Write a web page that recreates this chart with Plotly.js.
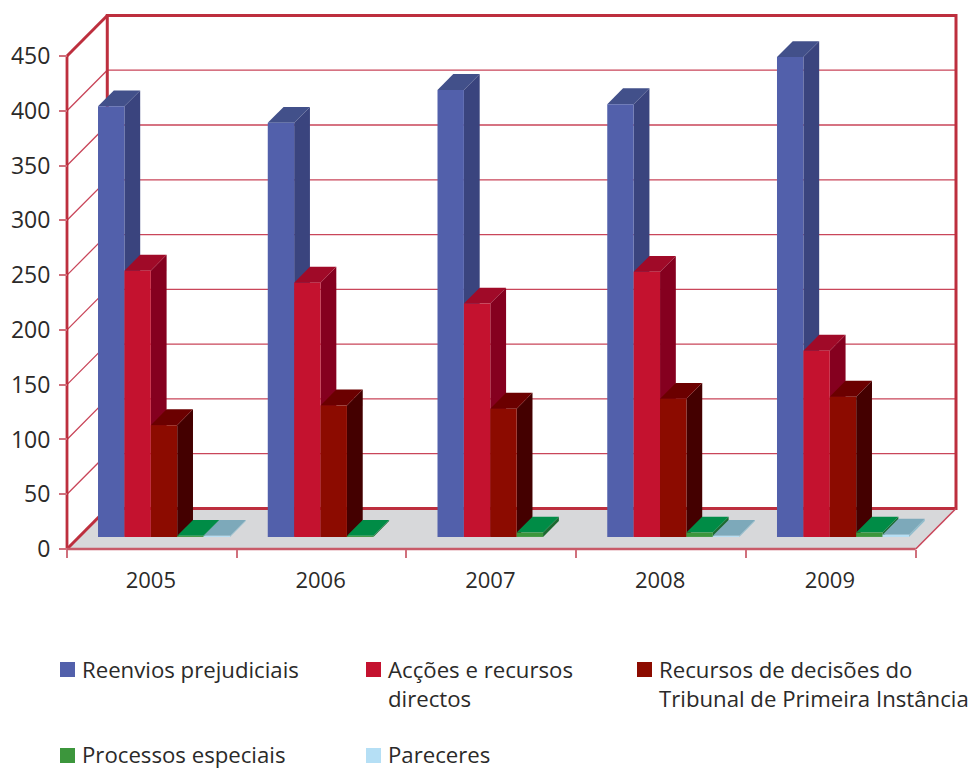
<!DOCTYPE html>
<html lang="pt">
<head>
<meta charset="utf-8">
<title>Processos por ano</title>
<script src="https://cdn.plot.ly/plotly-3.0.1.min.js"></script>
<style>html,body{margin:0;padding:0;background:#fff;overflow:hidden}</style>
</head>
<body>
<div id="chart" style="width:972px;height:769px"></div>
<script>
// Category labels and tick values
const years = ['2005', '2006', '2007', '2008', '2009'];
const valueTicks = [50, 100, 150, 200, 250, 300, 350, 400];

// Series values per year (0 = no bar)
const reenvios = [393, 378, 408, 395, 438];
const accoes = [243, 232, 213, 242, 170];
const recursos = [102, 120, 117, 126, 128];
const especiais = [1, 1, 4, 4, 4];
const pareceres = [1, 0, 0, 1, 2];

// Series names as set in the key
const names = [
  'Reenvios prejudiciais',
  'Acções e recursos<br>directos',
  'Recursos de decisões do<br>Tribunal de Primeira Instância',
  'Processos especiais',
  'Pareceres'
];

// Front / side / top shading for each series
const faces = [
  ['#5260ab', '#3a447e', '#42508a'],
  ['#c4122f', '#85001f', '#a00a28'],
  ['#8c0b00', '#440000', '#6b0000'],
  ['#3c963c', '#1c6a30', '#008c46'],
  ['#b5dff5', '#8fbccd', '#7da9ba']
];
const series = [reenvios, accoes, recursos, especiais, pareceres];

// Oblique projection: how far one unit of full depth shifts in axis units
const DEPTH_X = 0.2373;
const DEPTH_Y = 37;
const XMAX = years.length + DEPTH_X;
const YTOP = 450 + DEPTH_Y;
const YSPAN = 487.4;

// Bar placement inside a category, in category widths and depth fractions
const GAP = 0.112, BAR_W = 0.1555, D0 = 0.298, D1 = 0.69;

const FRAME = '#bd2f3e', GRID = '#c9465a', FLOOR = '#d7d8da', INK = '#2b2a29', FONT = '"Open Sans", sans-serif';

function poly(points, color) {
  return {
    type: 'scatter', mode: 'lines', x: points.map(p => p[0]), y: points.map(p => p[1]),
    fill: 'toself', fillcolor: color, line: {width: 0, color: color},
    hoverinfo: 'skip', showlegend: false
  };
}
function stroke(points, color, width) {
  return {
    type: 'scatter', mode: 'lines', x: points.map(p => p[0]), y: points.map(p => p[1]),
    line: {color: color, width: width}, hoverinfo: 'skip', showlegend: false
  };
}

const traces = [];

// Floor, back-wall grid and frame
const n = years.length;
traces.push(poly([[0, 0], [n, 0], [n + DEPTH_X, DEPTH_Y], [DEPTH_X, DEPTH_Y], [0, 0]], FLOOR));
valueTicks.forEach(v => {
  traces.push(stroke([[0, v], [DEPTH_X, v + DEPTH_Y], [XMAX, v + DEPTH_Y]], GRID, 1.3));
});
traces.push(stroke([[DEPTH_X, DEPTH_Y], [XMAX, DEPTH_Y], [XMAX, YTOP], [DEPTH_X, YTOP], [DEPTH_X, DEPTH_Y]], FRAME, 3));
traces.push(stroke([[0, 450], [DEPTH_X, YTOP]], FRAME, 3));
traces.push(stroke([[0, 0], [DEPTH_X, DEPTH_Y]], FRAME, 3));
traces.push(stroke([[0, 0], [0, 450]], FRAME, 2.8));
traces.push(stroke([[n, 0], [XMAX, DEPTH_Y]], '#c9465a', 1.5));
traces.push(stroke([[0, 0], [n, 0]], '#c85a68', 2.4));

// Extruded bars, painted left to right so each front hides its neighbour's side
series.forEach((values, s) => {
  values.forEach((v, c) => {
    if (!v) return;
    const x0 = c + GAP + s * BAR_W, x1 = x0 + BAR_W;
    const fx0 = x0 + D0 * DEPTH_X, fx1 = x1 + D0 * DEPTH_X;
    const bx0 = x0 + D1 * DEPTH_X, bx1 = x1 + D1 * DEPTH_X;
    const fy0 = D0 * DEPTH_Y, fy1 = v + D0 * DEPTH_Y;
    const by0 = D1 * DEPTH_Y, by1 = v + D1 * DEPTH_Y;
    traces.push(poly([[fx1, fy0], [bx1, by0], [bx1, by1], [fx1, fy1], [fx1, fy0]], faces[s][1]));
    traces.push(poly([[fx0, fy1], [fx1, fy1], [bx1, by1], [bx0, by1], [fx0, fy1]], faces[s][2]));
    traces.push(poly([[fx0, fy0], [fx1, fy0], [fx1, fy1], [fx0, fy1], [fx0, fy0]], faces[s][0]));
  });
});

// Plot box with a small pad so the heavy frame strokes are not trimmed at its edge
const PAD = 6;
const M = {l: 67 - PAD, r: 16 - PAD, t: 15 - PAD, b: 220 - PAD};
const W = 972, H = 769;
const plotW = W - M.l - M.r, plotH = H - M.t - M.b;
const X_PER_PX = XMAX / (plotW - 2 * PAD), Y_PER_PX = YSPAN / (plotH - 2 * PAD);
const xRange = [-PAD * X_PER_PX, XMAX + PAD * X_PER_PX];
const yRange = [-PAD * Y_PER_PX, YSPAN + PAD * Y_PER_PX];

// Pixel helpers for the key below the chart
const paperX = px => (px - M.l) / plotW;
const paperY = py => (H - M.b - py) / plotH;

const keySlots = [
  {sw: 60, tx: 81, top: 662, dy: 9},
  {sw: 366, tx: 387, top: 662, dy: 9},
  {sw: 637, tx: 658, top: 662, dy: 9},
  {sw: 60, tx: 81, top: 748, dy: 10},
  {sw: 366, tx: 387, top: 748, dy: 10}
];
const shapes = keySlots.map((k, i) => ({
  type: 'rect', xref: 'paper', yref: 'paper', layer: 'above',
  x0: paperX(k.sw), x1: paperX(k.sw + 15), y0: paperY(k.top + 15), y1: paperY(k.top),
  fillcolor: faces[i][0], line: {width: 0}
}));
const annotations = keySlots.map((k, i) => ({
  xref: 'paper', yref: 'paper', x: paperX(k.tx), y: paperY(k.top - k.dy),
  xanchor: 'left', yanchor: 'top', align: 'left', showarrow: false, text: names[i],
  borderpad: 0, font: {family: FONT, size: 22.2, color: INK}
}));

// Year labels sit mid-category on a second axis; the first carries the boundary ticks
traces.push({type: 'scatter', mode: 'none', x: [0.5, 4.5], y: [0, 0], xaxis: 'x2', hoverinfo: 'skip', showlegend: false});

const layout = {
  width: W, height: H, margin: M, paper_bgcolor: '#fff', plot_bgcolor: '#fff', showlegend: false,
  font: {family: FONT, size: 22, color: INK},
  xaxis: {
    range: xRange, anchor: 'free', position: PAD / plotH,
    showgrid: false, zeroline: false, showline: false,
    tickmode: 'array', tickvals: [0, 1, 2, 3, 4, 5], ticktext: ['', '', '', '', '', ''],
    ticks: 'outside', ticklen: 8, tickwidth: 2, tickcolor: '#d0707c'
  },
  xaxis2: {
    overlaying: 'x', anchor: 'free', position: PAD / plotH, side: 'bottom',
    range: [xRange[0] + 0.006, xRange[1] + 0.006],
    showgrid: false, zeroline: false, showline: false,
    tickmode: 'array', tickvals: [0.5, 1.5, 2.5, 3.5, 4.5], ticktext: years,
    ticks: 'outside', ticklen: 12, tickcolor: 'rgba(0,0,0,0)', tickfont: {family: FONT, size: 22, color: INK}
  },
  yaxis: {
    range: yRange, anchor: 'free', position: PAD / plotW,
    showgrid: false, zeroline: false, showline: false,
    tick0: 0, dtick: 50, ticks: 'outside', ticklen: 8, tickwidth: 2, tickcolor: '#d0707c',
    ticklabelstandoff: 4, tickfont: {family: FONT, size: 23, color: INK}
  },
  shapes: shapes,
  annotations: annotations
};

Plotly.newPlot('chart', traces, layout, {displayModeBar: false, responsive: false});
</script>
</body>
</html>
